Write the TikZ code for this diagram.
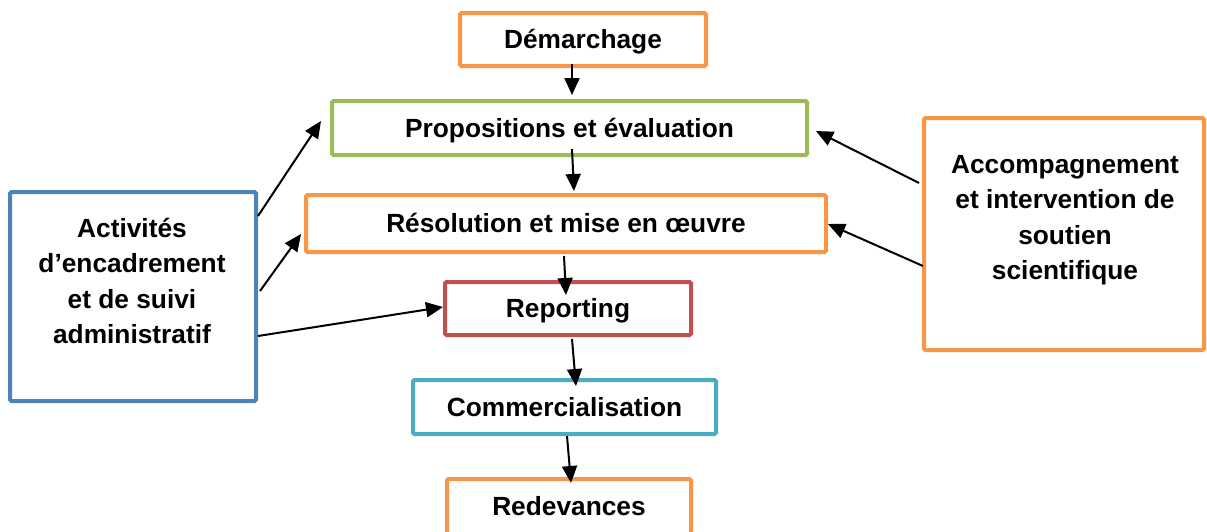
\documentclass[tikz,border=0pt]{standalone}
\usepackage{fontspec}
\setmainfont{Liberation Sans}
\usetikzlibrary{arrows.meta,calc}
\definecolor{orgc}{HTML}{F79646}
\definecolor{grnc}{HTML}{9BBB59}
\definecolor{bluc}{HTML}{4F81BD}
\definecolor{redc}{HTML}{C0504D}
\definecolor{tealc}{HTML}{4BACC6}
\tikzset{
  box/.style={draw=#1, line width=4pt, rounded corners=1.5pt, fill=white,
    inner sep=0pt, font=\fontsize{26.3}{35.5}\selectfont\bfseries,
    text height=18.8pt, text depth=0pt},
  lbl/.style={inner sep=0pt, align=center, font=\fontsize{26.3}{35.5}\selectfont\bfseries},
  conn/.style={line width=2pt, -{Triangle[length=17pt,width=15pt]}}
}
\begin{document}
\begin{tikzpicture}[x=1pt,y=-1pt]
\useasboundingbox (0,0) rectangle (1207,531);
\clip (0,0) rectangle (1207,531);
% central chain
\node[box=orgc, minimum width=246pt, minimum height=53pt] (dem) at (583,39.5) {Démarchage};
\node[box=grnc, minimum width=475pt, minimum height=54pt] (prop) at (569.5,128) {Propositions et évaluation};
\node[box=orgc, minimum width=520pt, minimum height=57pt] (res) at (566,223.5) {Résolution et mise en œuvre};
\node[box=redc, minimum width=246pt, minimum height=53pt] (rep) at (568,308.5) {Reporting};
\node[box=tealc, minimum width=303pt, minimum height=54pt] (com) at (564.5,407) {Commercialisation};
\node[box=orgc, minimum width=244pt, minimum height=55pt] (red) at (569,506.5) {Redevances};
% side boxes
\node[box=bluc, minimum width=246pt, minimum height=209pt] (left) at (133,296.5) {};
\node[lbl] (lefttxt) at (132,281) {Activités\\d’encadrement\\et de suivi\\administratif};
\node[box=orgc, minimum width=280pt, minimum height=232pt] (right) at (1064,234) {};
\node[lbl] (righttxt) at (1065,220) {Accompagnement\\et intervention de\\soutien\\scientifique};
% connectors
\draw[conn] ($(dem.south)+(-11,-4)$) -- ($(prop.north)+(2.5,-4)$);
\draw[conn] ($(prop.south)+(2.5,-8)$) -- ($(res.north)+(8,-2)$);
\draw[conn] ($(res.south)+(-2,2)$) -- ($(rep.north)+(-2,15)$);
\draw[conn] ($(rep.south)+(4,2)$) -- ($(com.north)+(11.5,8)$);
\draw[conn] ($(com.south)+(2.5,0)$) -- ($(red.north)+(2,6)$);
\draw[conn] ($(left.north east)+(0,26)$) -- ($(prop.west)+(-9,-7)$);
\draw[conn] ($(left.east)+(2,-5.5)$) -- ($(res.west)+(-3,10.5)$);
\draw[conn] ($(left.east)+(0,39.5)$) -- ($(rep.west)+(0,-1.5)$);
\draw[conn] ($(right.west)+(-3,-51)$) -- ($(prop.east)+(7,3)$);
\draw[conn] ($(right.west)+(1,32)$) -- ($(res.east)+(0,0.5)$);
\end{tikzpicture}
\end{document}
